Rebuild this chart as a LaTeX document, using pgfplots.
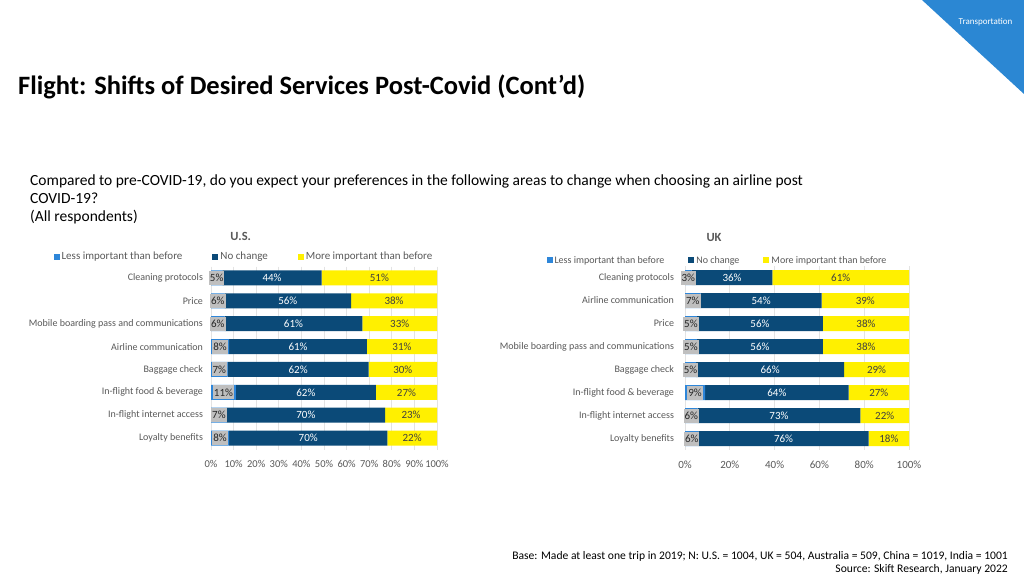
\documentclass[border=0pt]{standalone}
\usepackage{pgfplots}
\usepackage{pgfplotstable}
\pgfplotsset{compat=1.18}
\usepackage{fontspec}
\setmainfont{Carlito}
\definecolor{lessblue}{HTML}{2E86D9}
\definecolor{navy}{HTML}{0B4A78}
\definecolor{yel}{HTML}{FFF000}
\definecolor{lblgray}{HTML}{BFBFBF}
\definecolor{tickgray}{HTML}{595959}
\definecolor{gridgray}{HTML}{E3E3E3}
\definecolor{darktext}{HTML}{404040}
\definecolor{triblue}{HTML}{2B87D3}

\pgfplotstableread{
idx less same more
0 5 44 51
1 6 56 38
2 6 61 33
3 8 61 31
4 7.4 62.3 30.3
5 11 62 27
6 7 70 23
7 8 70 22
}\usdata
\pgfplotstableread{
idx less same more
0 3 36 61
1 7 54 39
2 5.3 56.3 38.4
3 5.3 56.3 38.4
4 5 66 29
5 9 64 27
6 5.6 72.7 21.7
7 6 76 18
}\ukdata
\pgfplotstablecreatecol[expr={\thisrow{less}/2}]{mA}{\usdata}
\pgfplotstablecreatecol[expr={\thisrow{less}+\thisrow{same}/2}]{mB}{\usdata}
\pgfplotstablecreatecol[expr={\thisrow{less}+\thisrow{same}+\thisrow{more}/2}]{mC}{\usdata}
\pgfplotstablecreatecol[expr={\thisrow{less}/2}]{mA}{\ukdata}
\pgfplotstablecreatecol[expr={\thisrow{less}+\thisrow{same}/2}]{mB}{\ukdata}
\pgfplotstablecreatecol[expr={\thisrow{less}+\thisrow{same}+\thisrow{more}/2}]{mC}{\ukdata}

\newcommand{\lblfont}{\fontsize{11}{12}\selectfont}

\pgfplotsset{
  /pgf/number format/assume math mode=true,
  barbase/.style={
    scale only axis, xbar stacked, bar width=15pt,
    xmin=0, xmax=100, ymin=-0.5, ymax=7.5, y dir=reverse,
    axis line style={draw=none}, major tick length=0pt,
    ytick={0,...,7},
    xmajorgrids, grid style={draw=gridgray, line width=0.7pt},
    xticklabel={\pgfmathprintnumber{\tick}\%},
    xticklabel style={text=tickgray, yshift=-7pt},
    yticklabel style={text=tickgray, font=\fontsize{10}{12}\selectfont},
    legend image code/.code={\fill[##1] (0pt,-3pt) rectangle (6pt,3pt);},
  },
  lblbase/.style={
    scale only axis, hide axis, clip=false,
    xmin=0, xmax=100, ymin=-0.5, ymax=7.5, y dir=reverse,
  },
  lblplot/.style={
    only marks, mark=*, mark size=0pt, mark options={draw=none,fill=none},
    point meta=explicit,
    nodes near coords={\pgfmathprintnumber[fixed,precision=0]{\pgfplotspointmeta}\%},
    nodes near coords align={center},
  },
}

\begin{document}
\begin{tikzpicture}[x=1pt,y=1pt]
\useasboundingbox (0,0) rectangle (1024,581);
\fill[white] (0,0) rectangle (1024,581);
\fill[triblue] (922,581) -- (1024,581) -- (1024,487) -- cycle;
\node[text=white] at (985.5,559) {\fontsize{9}{10}\selectfont Transportation};
\node[anchor=base west, inner sep=0] at (18,486) {\fontsize{26.5}{30}\selectfont\bfseries Flight: Shifts of Desired Services Post-Covid (Cont’d)};
\node[anchor=base west, inner sep=0] at (30,395) {\fontsize{15.5}{18}\selectfont Compared to pre-COVID-19, do you expect your preferences in the following areas to change when choosing an airline post};
\node[anchor=base west, inner sep=0] at (30,377) {\fontsize{15.5}{18}\selectfont COVID-19?};
\node[anchor=base west, inner sep=0] at (30,359) {\fontsize{15.5}{18}\selectfont (All respondents)};
\node[text=tickgray] at (240.7,345) {\fontsize{12.5}{14}\selectfont\bfseries U.S.};
\node[text=tickgray] at (714,344) {\fontsize{12.5}{14}\selectfont\bfseries UK};
\node[anchor=base east, inner sep=0] at (1008,21.3) {\fontsize{11.6}{13}\selectfont Base: Made at least one trip in 2019; N: U.S. = 1004, UK = 504, Australia = 509, China = 1019, India = 1001};
\node[anchor=base east, inner sep=0] at (1008,8.3) {\fontsize{11.6}{13}\selectfont Source: Skift Research, January 2022};

% ---------- U.S. bars
\begin{axis}[barbase, at={(211pt,131.5pt)}, anchor=south west, width=226pt, height=183pt,
  xtick={0,10,...,100},
  xticklabel style={font=\fontsize{10.5}{12}\selectfont},
  yticklabels={Cleaning protocols, Price, Mobile boarding pass and communications, Airline communication, Baggage check, In-flight food \& beverage, In-flight internet access, Loyalty benefits},
  yticklabel style={xshift=-4.5pt},
  legend columns=3,
  legend style={at={(axis description cs:0.146,1.053)}, anchor=center, draw=none, fill=none,
    font=\fontsize{11}{13}\selectfont, text=tickgray, inner sep=0pt,
    /tikz/every even column/.append style={column sep=28pt}},
]
\addplot[fill=lessblue, draw=none] table[x=less, y=idx]{\usdata};
\addplot[fill=navy, draw=none] table[x=same, y=idx]{\usdata};
\addplot[fill=yel, draw=none] table[x=more, y=idx]{\usdata};
\legend{Less important than before, No change, More important than before}
\end{axis}
\begin{axis}[lblbase, at={(211pt,131.5pt)}, anchor=south west, width=226pt, height=183pt]
\addplot[lblplot, every node near coord/.append style={font=\lblfont, text=black!85, fill=lblgray, inner xsep=1pt, inner ysep=0pt, minimum height=14pt}] table[x=mA, y=idx, meta=less]{\usdata};
\addplot[lblplot, every node near coord/.append style={font=\lblfont, text=white}] table[x=mB, y=idx, meta=same]{\usdata};
\addplot[lblplot, every node near coord/.append style={font=\lblfont, text=darktext}] table[x=mC, y=idx, meta=more]{\usdata};
\end{axis}

% ---------- UK bars
\begin{axis}[barbase, at={(685pt,131pt)}, anchor=south west, width=224pt, height=184pt,
  xtick={0,20,...,100},
  xticklabel style={font=\fontsize{11}{13}\selectfont},
  yticklabels={Cleaning protocols, Airline communication, Price, Mobile boarding pass and communications, Baggage check, In-flight food \& beverage, In-flight internet access, Loyalty benefits},
  yticklabel style={xshift=-7.5pt},
  legend columns=3,
  legend style={at={(axis description cs:0.145,1.03)}, anchor=center, draw=none, fill=none,
    font=\fontsize{10}{12}\selectfont, text=tickgray, inner sep=0pt,
    /tikz/every even column/.append style={column sep=22pt}},
]
\addplot[fill=lessblue, draw=none] table[x=less, y=idx]{\ukdata};
\addplot[fill=navy, draw=none] table[x=same, y=idx]{\ukdata};
\addplot[fill=yel, draw=none] table[x=more, y=idx]{\ukdata};
\legend{Less important than before, No change, More important than before}
\end{axis}
\begin{axis}[lblbase, at={(685pt,131pt)}, anchor=south west, width=224pt, height=184pt]
\addplot[lblplot, every node near coord/.append style={font=\lblfont, text=black!85, fill=lblgray, inner xsep=1pt, inner ysep=0pt, minimum height=14pt}] table[x=mA, y=idx, meta=less]{\ukdata};
\addplot[lblplot, every node near coord/.append style={font=\lblfont, text=white}] table[x=mB, y=idx, meta=same]{\ukdata};
\addplot[lblplot, every node near coord/.append style={font=\lblfont, text=darktext}] table[x=mC, y=idx, meta=more]{\ukdata};
\end{axis}
\end{tikzpicture}
\end{document}
